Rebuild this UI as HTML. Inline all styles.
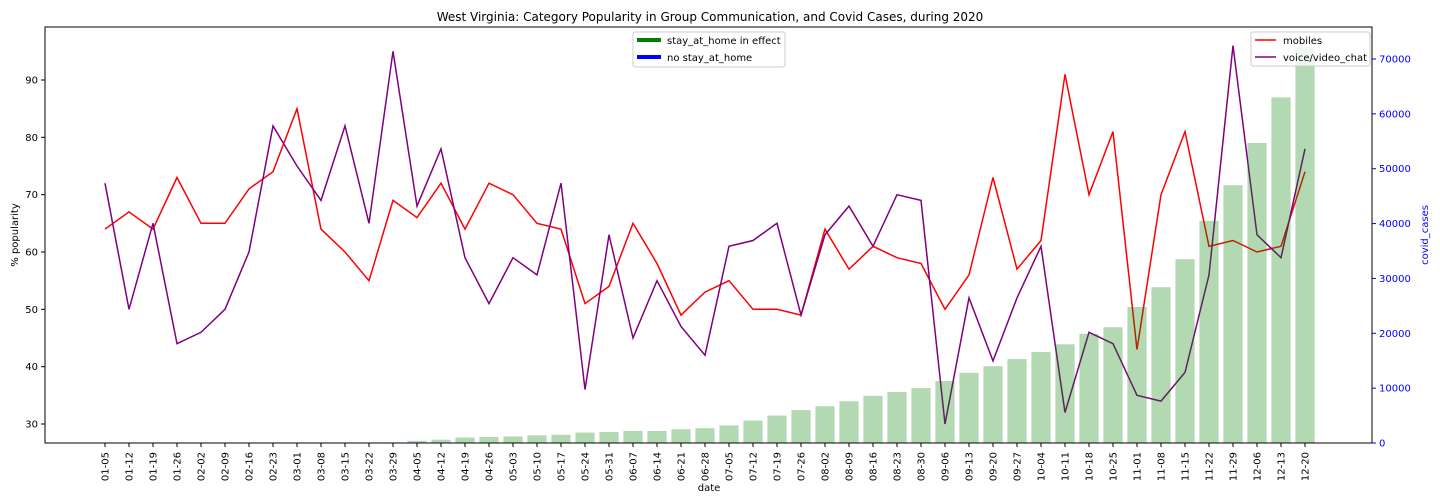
<!DOCTYPE html>
<html><head><meta charset="utf-8">
<style>
body{margin:0;background:#fff;}
svg{display:block;font-family:"DejaVu Sans","Liberation Sans",sans-serif;}
</style></head>
<body>
<svg id="chart" width="1440" height="504" viewBox="0 0 1440 504" xmlns="http://www.w3.org/2000/svg">
<text x="710" y="21" font-size="12" text-anchor="middle">West Virginia: Category Popularity in Group Communication, and Covid Cases, during 2020</text>
<g id="lines"></g>
<g id="bars"></g>
<g id="axes"></g>
<text transform="translate(18,235) rotate(-90)" font-size="10" text-anchor="middle">% popularity</text>
<text transform="translate(1428,235) rotate(-90)" font-size="10" text-anchor="middle" fill="blue">covid_cases</text>
<text x="709" y="491" font-size="10" text-anchor="middle">date</text>
<g>
<rect x="633" y="32" width="152" height="35" fill="#fff" fill-opacity="0.8" stroke="#ccc" rx="2"/>
<line x1="637" y1="40" x2="661" y2="40" stroke="green" stroke-width="4"/>
<text x="667" y="44" font-size="10">stay_at_home in effect</text>
<line x1="637" y1="57" x2="661" y2="57" stroke="blue" stroke-width="4"/>
<text x="667" y="61" font-size="10">no stay_at_home</text>
</g>
<g>
<rect x="1251" y="32" width="119" height="34" fill="#fff" fill-opacity="0.8" stroke="#ccc" rx="2"/>
<line x1="1255" y1="40" x2="1276" y2="40" stroke="red" stroke-width="1.5"/>
<text x="1283" y="44" font-size="10">mobiles</text>
<line x1="1255" y1="57" x2="1276" y2="57" stroke="purple" stroke-width="1.5"/>
<text x="1283" y="61" font-size="10">voice/video_chat</text>
</g>
</svg>
<script>
const dates=["01-05","01-12","01-19","01-26","02-02","02-09","02-16","02-23","03-01","03-08","03-15","03-22","03-29","04-05","04-12","04-19","04-26","05-03","05-10","05-17","05-24","05-31","06-07","06-14","06-21","06-28","07-05","07-12","07-19","07-26","08-02","08-09","08-16","08-23","08-30","09-06","09-13","09-20","09-27","10-04","10-11","10-18","10-25","11-01","11-08","11-15","11-22","11-29","12-06","12-13","12-20"];
const mobiles=[64,67,64,73,65,65,71,74,85,64,60,55,69,66,72,64,72,70,65,64,51,54,65,58,49,53,55,50,50,49,64,57,61,59,58,50,56,73,57,62,91,70,81,43,70,81,61,62,60,61,74];
const voiceChat=[72,50,65,44,46,50,60,82,75,69,82,65,95,68,78,59,51,59,56,72,36,63,45,55,47,42,61,62,65,49,63,68,61,70,69,30,52,41,52,61,32,46,44,35,34,39,56,96,63,59,78];
const covidCases=[0,0,0,0,0,0,0,0,0,0,0,0,100,400,600,1000,1100,1200,1400,1500,1900,2000,2200,2200,2500,2700,3200,4100,5000,6000,6700,7600,8600,9300,10000,11300,12800,14000,15300,16600,18000,19900,21100,24800,28400,33500,40500,47000,54700,63000,72200];
const leftTicks=[30,40,50,60,70,80,90];
const rightTicks=[0,10000,20000,30000,40000,50000,60000,70000];

const NS="http://www.w3.org/2000/svg";
const L=45,R=1372,T=27,B=443;
const xPos=i=>105+i*24;
const yL=v=>424-(v-30)*5.7333;
const yR=v=>443-v*0.0054857;
function mk(tag,attrs,parent){const e=document.createElementNS(NS,tag);for(const k in attrs)e.setAttribute(k,attrs[k]);parent.appendChild(e);return e;}
const lines=document.getElementById('lines'),bars=document.getElementById('bars'),axes=document.getElementById('axes');

function drawLine(vals,color,name){
  const p=mk('polyline',{points:vals.map((v,i)=>xPos(i)+','+yL(v).toFixed(1)).join(' '),fill:'none',stroke:color,'stroke-width':1.5},lines);
  
  
}
drawLine(mobiles,'red','mobiles-line');
drawLine(voiceChat,'purple','voice-video-chat-line');

covidCases.forEach((v,i)=>{
  if(v<=0)return;
  const y=yR(v);
  const r=mk('rect',{x:xPos(i)-9.6,y:y,width:19.2,height:B-y,fill:'green','fill-opacity':0.3},bars);
  
  
});

const frame=mk('rect',{x:L,y:T,width:R-L,height:B-T,fill:'none',stroke:'#000','stroke-width':1},axes);



dates.forEach((d,i)=>{
  const x=xPos(i);
  mk('line',{x1:x,y1:B,x2:x,y2:B+4,stroke:'#000'},axes);
  const t=mk('text',{transform:`translate(${x+3.5},452) rotate(-90)`,'font-size':10,'text-anchor':'end'},axes);
  t.textContent=d;
  
  
});
leftTicks.forEach(v=>{
  const y=yL(v);
  mk('line',{x1:L-4,y1:y,x2:L,y2:y,stroke:'#000'},axes);
  const t=mk('text',{x:L-7,y:y+3.5,'font-size':10,'text-anchor':'end'},axes);
  t.textContent=v;
  
  
});
rightTicks.forEach(v=>{
  const y=yR(v);
  mk('line',{x1:R,y1:y,x2:R+4,y2:y,stroke:'blue'},axes);
  const t=mk('text',{x:R+7,y:y+3.5,'font-size':10,fill:'blue'},axes);
  t.textContent=v;
  
  
});
</script>
</body></html>
